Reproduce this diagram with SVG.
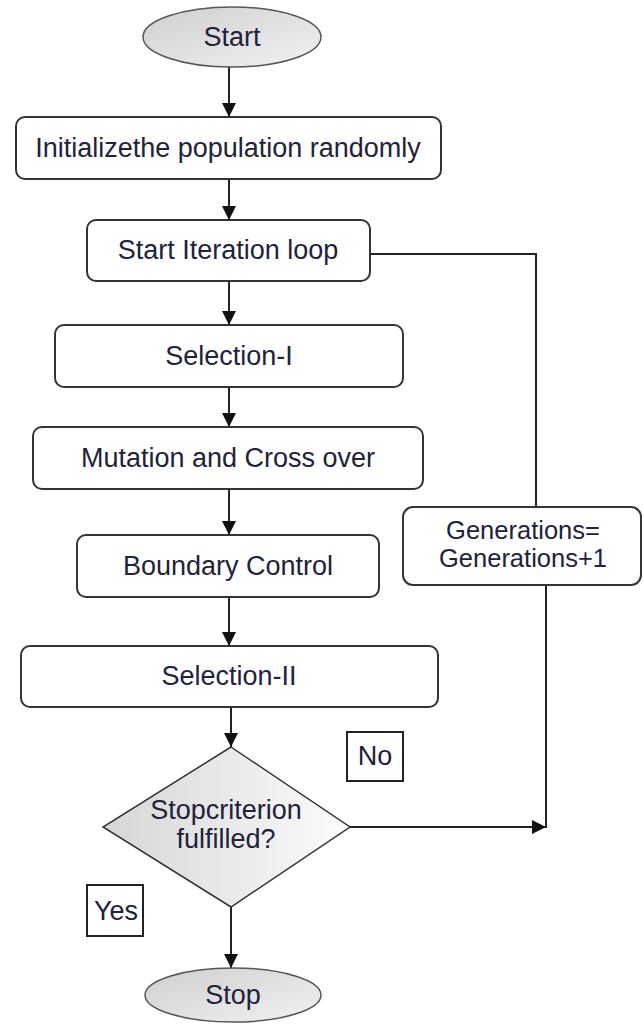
<svg xmlns="http://www.w3.org/2000/svg" width="643" height="1024" viewBox="0 0 643 1024">
<style>
.box{fill:#fff;stroke:#333;stroke-width:2}
.lbl{fill:#fff;stroke:#222;stroke-width:2}
.term{fill:url(#g);stroke:#555;stroke-width:1.5}
.dec{fill:url(#g2);stroke:#333;stroke-width:1.5}
text{font-family:"Liberation Sans",Arial,sans-serif;font-size:27px;fill:#22223a;text-anchor:middle}
.s{font-size:25.5px}
.c{fill:none;stroke:#222;stroke-width:2}
</style>
<defs>
<linearGradient id="g" x1="0" y1="0" x2="1" y2="1">
<stop offset="0" stop-color="#cfcfcf"/>
<stop offset="1" stop-color="#f2f2f2"/>
</linearGradient>
<linearGradient id="g2" x1="0" y1="0" x2="1" y2="0">
<stop offset="0" stop-color="#d6d6d6"/>
<stop offset="1" stop-color="#fcfcfc"/>
</linearGradient>
<marker id="a" viewBox="0 0 10 10" refX="10" refY="5" markerWidth="7" markerHeight="7" orient="auto" markerUnits="strokeWidth">
<path d="M0,0 L10,5 L0,10 Z" fill="#111"/>
</marker>
</defs>
<g id="connectors">
<line class="c" x1="229" y1="67" x2="229" y2="117" marker-end="url(#a)"/>
<line class="c" x1="229" y1="179" x2="229" y2="220" marker-end="url(#a)"/>
<line class="c" x1="229" y1="281" x2="229" y2="325" marker-end="url(#a)"/>
<line class="c" x1="229" y1="387" x2="229" y2="427" marker-end="url(#a)"/>
<line class="c" x1="229" y1="489" x2="229" y2="535" marker-end="url(#a)"/>
<line class="c" x1="229" y1="597" x2="229" y2="646" marker-end="url(#a)"/>
<line class="c" x1="231" y1="707" x2="231" y2="747" marker-end="url(#a)"/>
<line class="c" x1="231" y1="907" x2="231" y2="968" marker-end="url(#a)"/>
<polyline class="c" points="370,254 536,254 536,507"/>
<line class="c" x1="546" y1="585" x2="546" y2="828"/>
<line class="c" x1="350" y1="827" x2="546" y2="827" marker-end="url(#a)"/>
</g>
<g id="start">
<ellipse class="term" cx="232" cy="37" rx="89" ry="30"/>
<text x="232" y="46">Start</text>
</g>
<g id="init">
<rect class="box" x="16" y="117" width="425" height="62" rx="9"/>
<text x="228" y="157">Initializethe population randomly</text>
</g>
<g id="iter">
<rect class="box" x="87" y="220" width="283" height="61" rx="9"/>
<text x="228" y="259">Start Iteration loop</text>
</g>
<g id="sel1">
<rect class="box" x="55" y="325" width="348" height="62" rx="9"/>
<text x="229" y="365">Selection-I</text>
</g>
<g id="mut">
<rect class="box" x="33" y="427" width="390" height="62" rx="9"/>
<text x="228" y="467">Mutation and Cross over</text>
</g>
<g id="bound">
<rect class="box" x="77" y="535" width="302" height="62" rx="9"/>
<text x="228" y="575">Boundary Control</text>
</g>
<g id="sel2">
<rect class="box" x="21" y="646" width="417" height="61" rx="9"/>
<text x="229" y="685">Selection-II</text>
</g>
<g id="gen">
<rect class="box" x="403" y="507" width="238" height="78" rx="10"/>
<text class="s" x="523" y="539">Generations=</text>
<text class="s" x="523" y="567">Generations+1</text>
</g>
<g id="decision">
<polygon class="dec" points="231,747 350,827 231,907 103,827"/>
<text x="226" y="819">Stopcriterion</text>
<text x="226" y="848">fulfilled?</text>
</g>
<g id="no">
<rect class="lbl" x="347" y="732" width="56" height="49"/>
<text x="375" y="765">No</text>
</g>
<g id="yes">
<rect class="lbl" x="87" y="885" width="56" height="51"/>
<text x="116" y="920">Yes</text>
</g>
<g id="stop">
<ellipse class="term" cx="233" cy="995" rx="88" ry="27"/>
<text x="233" y="1004">Stop</text>
</g>
</svg>
